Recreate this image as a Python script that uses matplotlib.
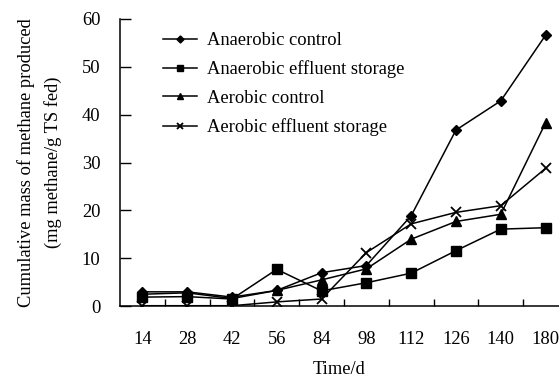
import matplotlib
matplotlib.use("Agg")
import matplotlib.pyplot as plt
import numpy as np

days = ["14", "28", "42", "56", "84", "98", "112", "126", "140", "180"]
anaerobic_control = [3.0, 3.0, 1.9, 3.3, 7.0, 8.5, 18.9, 36.8, 42.9, 56.6]
anaerobic_storage = [1.9, 2.0, 1.5, 7.7, 3.2, 4.9, 6.9, 11.6, 16.1, 16.4]
aerobic_control = [2.5, 2.8, 1.6, 3.3, 5.5, 7.8, 14.0, 17.7, 19.2, 38.3]
aerobic_storage = [0.1, 0.1, 0.1, 0.9, 1.5, 11.2, 17.2, 19.6, 21.0, 28.8]

plt.rcParams['font.family'] = ['Liberation Serif', 'DejaVu Serif']
FS = 13.3

fig = plt.figure(figsize=(5.59, 3.77), dpi=100)
ax = fig.add_axes([120/559, 1-306.2/377, 1-120/559, (306.2-19)/377])

x = np.arange(len(days))
kw = dict(color='black', lw=1.1)
ax.plot(x, anaerobic_control, marker='D', ms=5.5, label='Anaerobic control', **kw)
ax.plot(x, anaerobic_storage, marker='s', ms=7, label='Anaerobic effluent storage', **kw)
ax.plot(x, aerobic_control, marker='^', ms=7, label='Aerobic control', **kw)
ax.plot(x, aerobic_storage, marker='x', ms=6.5, mew=1.3, label='Aerobic effluent storage', **kw)

ax.set_xlim(-0.5, 9.3)
ax.set_ylim(0, 60)
ax.set_yticks([0, 10, 20, 30, 40, 50, 60])
ax.set_xticks(x)
ax.set_xticklabels(days)
ax.set_xticks(np.arange(0.5, 9.0, 1.0), minor=True)
ax.tick_params(axis='x', which='major', length=0, pad=18, labelsize=FS)
ax.tick_params(axis='x', which='minor', direction='in', length=5, width=1)
ax.tick_params(axis='y', direction='in', length=8, width=1, pad=14, labelsize=FS)

for s in ['top', 'right']:
    ax.spines[s].set_visible(False)
for s in ['left', 'bottom']:
    ax.spines[s].set_linewidth(1.1)

ax.set_xlabel('Time/d', fontsize=FS, labelpad=9)
ax.set_ylabel('Cumulative mass of methane produced\n(mg methane/g TS fed)', fontsize=FS, labelpad=14, linespacing=1.65)

ax.legend(loc='upper left', bbox_to_anchor=(0.08, 0.98), frameon=False, fontsize=FS,
          handlelength=1.85, handletextpad=0.55, labelspacing=0.62, markerscale=0.65,
          borderaxespad=0)

fig.savefig('out.png', dpi=100)
